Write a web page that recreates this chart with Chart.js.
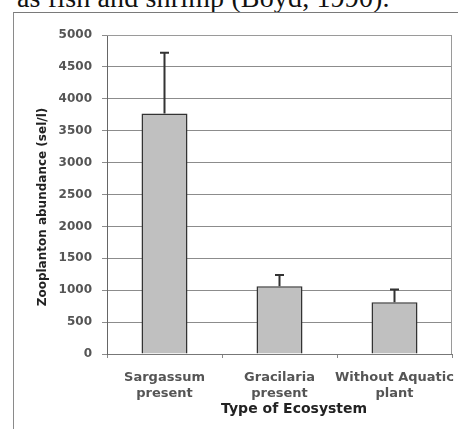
<!DOCTYPE html>
<html>
<head>
<meta charset="utf-8">
<script src="https://cdn.jsdelivr.net/npm/chart.js@4/dist/chart.umd.min.js"></script>
<style>
  html, body { margin: 0; padding: 0; background: #fff; }
  body { width: 458px; height: 429px; overflow: hidden; position: relative; }
  #caption { position: absolute; left: 17px; top: -17px; font-family: "Liberation Serif", "Times New Roman", serif; font-size: 28px; letter-spacing: 0.15px; color: #111; white-space: nowrap; line-height: 30px; }
  #frame { position: absolute; left: 13px; top: 12px; width: 460px; height: 430px; border-left: 1px solid #8a8a8a; border-top: 1px solid #7a7a7a; }
  #wrap { position: absolute; left: 0; top: 0; width: 458px; height: 429px; }
</style>
</head>
<body>
<div id="caption">as fish and shrimp (Boyd, 1990).</div>
<div id="frame"></div>
<div id="wrap"><canvas id="c" width="458" height="429"></canvas></div>
<script>
const categories = [["Sargassum", "present"], ["Gracilaria", "present"], ["Without Aquatic", "plant"]];
const abundance = [3770, 1060, 810];
const errorUpper = [4720, 1240, 1010];
const yTicks = [0, 500, 1000, 1500, 2000, 2500, 3000, 3500, 4000, 4500, 5000];
const xTitle = 'Type of Ecosystem';
const yTitle = 'Zooplanton abundance (sel/l)';

const errorBarPlugin = {
  id: 'errorBars',
  afterDatasetsDraw(chart) {
    const ctx = chart.ctx;
    const meta = chart.getDatasetMeta(0);
    const y = chart.scales.y;
    ctx.save();
    ctx.strokeStyle = '#333';
    ctx.lineWidth = 2;
    meta.data.forEach((bar, i) => {
      const x = bar.x;
      const yTop = y.getPixelForValue(errorUpper[i]);
      const yVal = y.getPixelForValue(abundance[i]);
      ctx.beginPath();
      ctx.moveTo(x, yVal);
      ctx.lineTo(x, yTop);
      ctx.moveTo(x - 4.5, yTop);
      ctx.lineTo(x + 4.5, yTop);
      ctx.stroke();
    });
    ctx.restore();
  }
};

const plotBorderPlugin = {
  id: 'plotBorder',
  beforeDatasetsDraw(chart) {
    const {ctx, chartArea: a} = chart;
    ctx.save();
    ctx.strokeStyle = '#9a9a9a';
    ctx.lineWidth = 1;
    ctx.beginPath();
    ctx.moveTo(a.left, a.top + 0.5);
    ctx.lineTo(a.right - 0.5, a.top + 0.5);
    ctx.lineTo(a.right - 0.5, a.bottom);
    ctx.stroke();
    ctx.restore();
  }
};

new Chart(document.getElementById('c'), {
  type: 'bar',
  data: {
    labels: categories,
    datasets: [{
      data: abundance,
      backgroundColor: '#c0c0c0',
      borderColor: '#333',
      borderWidth: 1.5,
      barPercentage: 0.4,
      categoryPercentage: 1.0
    }]
  },
  options: {
    responsive: false,
    animation: false,
    events: [],
    layout: { padding: { top: 35, right: 6, left: 0, bottom: 0 } },
    plugins: { legend: { display: false }, tooltip: { enabled: false } },
    scales: {
      x: {
        afterFit(scale) { scale.height = 75; scale.paddingLeft = 0; scale.paddingRight = 0; },
        grid: { display: true, drawOnChartArea: false, drawTicks: true, tickLength: 4, color: '#888', offset: true },
        border: { display: true, color: '#777', width: 1 },
        ticks: { color: '#555', padding: 12, autoSkip: false, font: { family: 'DejaVu Sans', size: 13, weight: 'bold' }, maxRotation: 0 },
        title: { display: true, text: '      ' + xTitle, color: '#222', font: { family: 'DejaVu Sans', size: 14, weight: 'bold' }, padding: { top: 0, bottom: 11 } }
      },
      y: {
        min: 0, max: 5000,
        afterFit(scale) { scale.width = 107; scale.paddingTop = 0; scale.paddingBottom = 0; },
        afterBuildTicks(scale) { scale.ticks = yTicks.map(v => ({ value: v })); },
        grid: { color: '#8c8c8c', lineWidth: 1, tickLength: 5 },
        border: { display: true, color: '#666', width: 1 },
        ticks: { color: '#555', padding: 10, font: { family: 'DejaVu Sans', size: 12, weight: 'bold' }, callback: v => String(v) },
        title: { display: true, text: yTitle + '      ', color: '#222', font: { family: 'DejaVu Sans', size: 12, weight: 'bold' }, padding: { top: 36, bottom: 0 } }
      }
    }
  },
  plugins: [plotBorderPlugin, errorBarPlugin]
});
</script>
</body>
</html>
